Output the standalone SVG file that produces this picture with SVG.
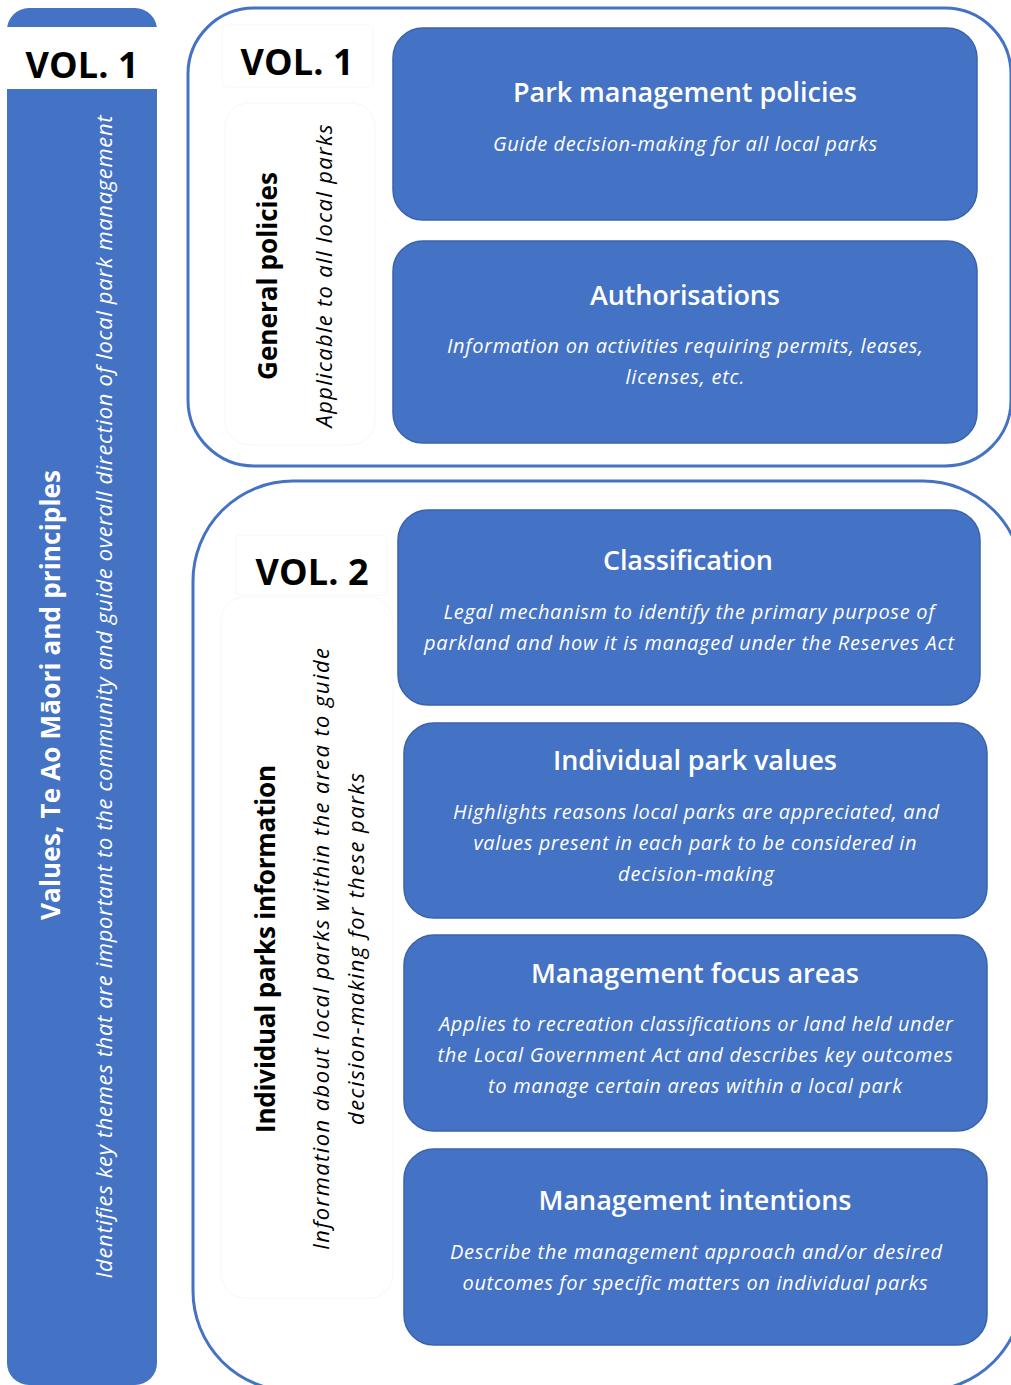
<svg xmlns="http://www.w3.org/2000/svg" width="1011" height="1385" viewBox="0 0 1011 1385">
<style>
.box{fill:#4472C4;stroke:#3A63AC;stroke-width:1.5}
.frame{fill:none;stroke:#4472C4;stroke-width:3}
.faint{fill:#ffffff;stroke:#f7f7f7;stroke-width:1}
.vol{font-family:"Open Sans","Liberation Sans",sans-serif;font-weight:700;font-size:36px;fill:#000}
.title{font-family:"Open Sans","Liberation Sans",sans-serif;font-weight:600;font-size:27px;fill:#fff;text-anchor:middle}
.desc{font-family:"Open Sans","Liberation Sans",sans-serif;font-style:italic;font-size:20px;fill:#fff;text-anchor:middle}
.rtb{font-family:"Open Sans","Liberation Sans",sans-serif;font-weight:700;font-size:26px;text-anchor:middle}
.rti{font-family:"Open Sans","Liberation Sans",sans-serif;font-style:italic;font-size:22px;text-anchor:middle}
</style>
<rect width="1011" height="1385" fill="#ffffff"/>
<g id="vol1-column">
<rect x="7" y="8" width="150" height="1377" rx="22" fill="#4472C4"/>
<rect x="7" y="27" width="150" height="62" fill="#ffffff"/>
<text class="vol" x="82" y="78" text-anchor="middle" textLength="113" lengthAdjust="spacing">VOL. 1</text>
<text class="rtb" fill="#fff" transform="translate(60,695) rotate(-90)" textLength="450" lengthAdjust="spacing">Values, Te Ao Māori and principles</text>
<text class="rti" fill="#fff" transform="translate(112,697) rotate(-90)" textLength="1163" lengthAdjust="spacing">Identifies key themes that are important to the community and guide overall direction of local park management</text>
</g>
<g id="vol1-container">
<rect class="frame" x="188" y="8" width="823" height="458" rx="66"/>
<rect class="faint" x="222" y="25" width="151" height="62" rx="4"/>
<text class="vol" x="297" y="75" text-anchor="middle" textLength="113" lengthAdjust="spacing">VOL. 1</text>
<rect class="faint" x="225" y="103" width="150" height="342" rx="24"/>
<text class="rtb" fill="#000" transform="translate(277,276) rotate(-90)" textLength="208" lengthAdjust="spacing">General policies</text>
<text class="rti" fill="#000" transform="translate(332,276) rotate(-90)" textLength="303" lengthAdjust="spacing">Applicable to all local parks</text>
</g>
<g id="park-management-policies">
<rect class="box" x="393" y="28" width="584" height="192" rx="30"/>
<text class="title" x="685" y="102" textLength="344" lengthAdjust="spacing">Park management policies</text>
<text class="desc" x="685" y="151" textLength="384" lengthAdjust="spacing">Guide decision-making for all local parks</text>
</g>
<g id="authorisations">
<rect class="box" x="393" y="241" width="584" height="202" rx="30"/>
<text class="title" x="685" y="305" textLength="190" lengthAdjust="spacing">Authorisations</text>
<text class="desc" x="685" y="353" textLength="476" lengthAdjust="spacing">Information on activities requiring permits, leases,</text>
<text class="desc" x="685" y="384" textLength="119" lengthAdjust="spacing">licenses, etc.</text>
</g>
<g id="vol2-container">
<rect class="frame" x="193" y="481" width="830" height="910" rx="100"/>
<rect class="faint" x="236" y="535" width="151" height="60" rx="4"/>
<text class="vol" x="312" y="585" text-anchor="middle" textLength="113" lengthAdjust="spacing">VOL. 2</text>
<rect class="faint" x="221" y="597" width="172" height="701" rx="24"/>
<text class="rtb" fill="#000" transform="translate(275,949) rotate(-90)" textLength="368" lengthAdjust="spacing">Individual parks information</text>
<text class="rti" fill="#000" transform="translate(329,949) rotate(-90)" textLength="602" lengthAdjust="spacing">Information about local parks within the area to guide</text>
<text class="rti" fill="#000" transform="translate(364,949) rotate(-90)" textLength="352" lengthAdjust="spacing">decision-making for these parks</text>
</g>
<g id="classification">
<rect class="box" x="398" y="510" width="582" height="195" rx="30"/>
<text class="title" x="688" y="570" textLength="170" lengthAdjust="spacing">Classification</text>
<text class="desc" x="689" y="619" textLength="491" lengthAdjust="spacing">Legal mechanism to identify the primary purpose of</text>
<text class="desc" x="689" y="650" textLength="530" lengthAdjust="spacing">parkland and how it is managed under the Reserves Act</text>
</g>
<g id="individual-park-values">
<rect class="box" x="404" y="723" width="583" height="195" rx="30"/>
<text class="title" x="695" y="770" textLength="284" lengthAdjust="spacing">Individual park values</text>
<text class="desc" x="696" y="819" textLength="486" lengthAdjust="spacing">Highlights reasons local parks are appreciated, and</text>
<text class="desc" x="695" y="850" textLength="443" lengthAdjust="spacing">values present in each park to be considered in</text>
<text class="desc" x="696" y="881" textLength="156" lengthAdjust="spacing">decision-making</text>
</g>
<g id="management-focus-areas">
<rect class="box" x="404" y="935" width="583" height="196" rx="30"/>
<text class="title" x="695" y="983" textLength="328" lengthAdjust="spacing">Management focus areas</text>
<text class="desc" x="696" y="1031" textLength="514" lengthAdjust="spacing">Applies to recreation classifications or land held under</text>
<text class="desc" x="695" y="1062" textLength="515" lengthAdjust="spacing">the Local Government Act and describes key outcomes</text>
<text class="desc" x="695" y="1093" textLength="414" lengthAdjust="spacing">to manage certain areas within a local park</text>
</g>
<g id="management-intentions">
<rect class="box" x="404" y="1149" width="583" height="196" rx="30"/>
<text class="title" x="695" y="1210" textLength="313" lengthAdjust="spacing">Management intentions</text>
<text class="desc" x="696" y="1259" textLength="492" lengthAdjust="spacing">Describe the management approach and/or desired</text>
<text class="desc" x="695" y="1290" textLength="465" lengthAdjust="spacing">outcomes for specific matters on individual parks</text>
</g>
<g id="connectors"></g>
</svg>
